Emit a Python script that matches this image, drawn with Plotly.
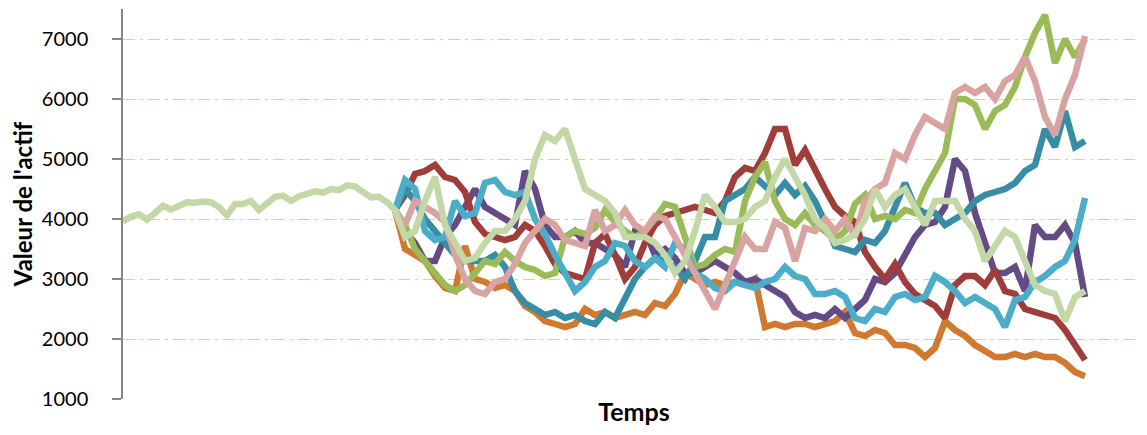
import plotly.graph_objects as go

# Historique commun (pas de temps)
temps_hist = list(range(0, 273, 8))
valeur_hist = [3960, 4040, 4080, 3990, 4100, 4220, 4160, 4230, 4280, 4270,
               4290, 4280, 4200, 4060, 4250, 4250, 4300, 4150, 4250, 4370,
               4390, 4300, 4380, 4420, 4460, 4440, 4500, 4480, 4560, 4540,
               4450, 4360, 4370, 4280, 4150]

# Trajectoires simulees a partir du dernier point de l'historique
temps_sim = list(range(272, 963, 10))

rouge = [4150, 4400, 4750, 4800, 4900, 4700, 4650, 4450, 3950, 3750,
         3700, 3650, 3700, 3900, 3800, 3550, 3250, 3100, 3050, 3000,
         3600, 3750, 3400, 3000, 3200, 3600, 3900, 4050, 4100, 4150,
         4200, 4150, 4100, 4300, 4700, 4850, 4800, 5100, 5500, 5500,
         4900, 5150, 4800, 4500, 4200, 4050, 3950, 3450, 3200, 3000,
         3250, 2950, 2750, 2650, 2550, 2350, 2900, 3050, 3050, 2900,
         3150, 2800, 2750, 2500, 2450, 2400, 2350, 2150, 1900, 1650]

bleu_fonce = [4150, 4500, 4300, 4000, 3800, 3600, 3400, 3300, 3300, 3300,
              3400, 3200, 2800, 2600, 2500, 2400, 2450, 2350, 2400, 2300,
              2250, 2450, 2350, 2700, 3000, 3200, 3350, 3300, 3200, 3000,
              3300, 3700, 3700, 4300, 4400, 4500, 4700, 4550, 4400, 4600,
              4400, 4550, 4300, 3950, 3550, 3500, 3450, 3650, 3600, 3800,
              4200, 4600, 4200, 4100, 4100, 3900, 4000, 4100, 4300, 4400,
              4450, 4500, 4600, 4800, 4900, 5500, 5200, 5800, 5200, 5300]

vert = [4150, 3900, 3500, 3300, 3100, 2900, 2800, 2900, 3100, 3300,
        3250, 3450, 3300, 3200, 3150, 3050, 3100, 3700, 3800, 3750,
        3850, 4150, 3950, 3800, 3700, 3800, 4000, 4250, 4200, 3700,
        3200, 3250, 3400, 3500, 3450, 4300, 4700, 4950, 4300, 4000,
        3900, 4100, 3900, 3800, 3650, 3800, 4250, 4400, 4000, 4050,
        4000, 4150, 4100, 4500, 4800, 5100, 6000, 6000, 5900, 5500,
        5800, 5900, 6200, 6700, 7100, 7400, 6600, 7000, 6700, 7000]

violet = [4150, 3800, 3600, 3300, 3300, 3700, 3900, 4200, 4500, 4200,
          4100, 4000, 3900, 4800, 4500, 3900, 3700, 3700, 3800, 3600,
          3600, 3500, 3400, 3200, 3800, 3800, 3400, 3500, 3350, 3100,
          3100, 3200, 3300, 3200, 3100, 2950, 3000, 2900, 2800, 2700,
          2450, 2350, 2400, 2350, 2500, 2350, 2500, 2650, 3000, 2950,
          3100, 3400, 3700, 3900, 3950, 4200, 5000, 4800, 4100, 3600,
          3100, 3100, 3200, 2800, 3900, 3700, 3700, 3900, 3600, 2700]

bleu_clair = [4150, 4650, 4500, 3800, 3650, 3700, 4300, 4050, 4100, 4600,
              4650, 4450, 4400, 4450, 4000, 3750, 3400, 3100, 2800, 2950,
              3200, 3300, 3600, 3550, 3300, 3200, 3350, 3200, 3600, 3500,
              3100, 3000, 2850, 2800, 2950, 2900, 2850, 2950, 3000, 3200,
              3050, 3000, 2750, 2750, 2800, 2700, 2350, 2300, 2500, 2450,
              2700, 2750, 2650, 2700, 3050, 2950, 2800, 2600, 2700, 2600,
              2500, 2200, 2650, 2700, 2950, 3050, 3200, 3300, 3650, 4350]

orange = [4150, 3500, 3400, 3300, 3050, 2850, 2800, 3550, 3000, 2950,
          2850, 2900, 2800, 2550, 2450, 2300, 2250, 2200, 2250, 2500,
          2400, 2450, 2350, 2400, 2450, 2400, 2600, 2550, 2750, 3100,
          3000, 2900, 2950, 2900, 2950, 2900, 3000, 2200, 2250, 2200,
          2250, 2250, 2200, 2250, 2300, 2450, 2100, 2050, 2150, 2100,
          1900, 1900, 1850, 1700, 1850, 2300, 2150, 2050, 1900, 1800,
          1700, 1700, 1750, 1700, 1750, 1700, 1700, 1600, 1450, 1380]

rose = [4150, 3900, 4300, 4200, 4100, 3950, 3400, 3000, 2800, 2750,
        2950, 3000, 3250, 3600, 3800, 4000, 3900, 3650, 3600, 3550,
        4150, 3800, 3900, 4150, 3900, 3800, 4050, 4000, 3700, 3400,
        3150, 2800, 2500, 2900, 3300, 3700, 3500, 3500, 3950, 3850,
        3300, 3850, 3800, 4000, 3800, 4000, 3700, 4300, 4500, 4600,
        5100, 5000, 5400, 5700, 5600, 5500, 6100, 6200, 6100, 6200,
        6000, 6300, 6400, 6700, 6300, 5700, 5400, 6000, 6400, 7050]

sauge = [4150, 3700, 3800, 4300, 4700, 3900, 3600, 3300, 3350, 3600,
         3800, 3800, 4000, 4300, 5000, 5400, 5300, 5500, 5000, 4500,
         4400, 4300, 4100, 3700, 3700, 3700, 3600, 3400, 3100, 3300,
         3800, 4400, 4200, 3950, 3950, 4000, 4200, 4300, 4700, 5000,
         4700, 4400, 4000, 3850, 3600, 3650, 3750, 4000, 4500, 4200,
         4400, 4500, 4200, 3900, 4300, 4300, 4300, 4000, 3800, 3300,
         3550, 3800, 3700, 3300, 2900, 2800, 2750, 2300, 2700, 2800]

series = [
    (orange, "#D07A31"),
    (violet, "#654B85"),
    (rouge, "#A03C3A"),
    (bleu_fonce, "#378DA4"),
    (vert, "#9BBB59"),
    (bleu_clair, "#4BADC8"),
    (rose, "#D9A3A1"),
]

fig = go.Figure()

for valeurs, couleur in series:
    fig.add_trace(go.Scatter(x=temps_sim, y=valeurs, mode="lines",
                             line=dict(color=couleur, width=6.5),
                             showlegend=False))

# la trajectoire sauge prolonge l'historique
fig.add_trace(go.Scatter(x=temps_hist + temps_sim[1:],
                         y=valeur_hist + sauge[1:], mode="lines",
                         line=dict(color="#C4D7A6", width=6.5),
                         showlegend=False))

# la page html ajoute 8 px de marge : on compense ici
fig.update_layout(
    width=1139, height=435,
    margin=dict(l=115, r=2, t=1, b=44),
    paper_bgcolor="white", plot_bgcolor="white",
    font=dict(family="Lato", color="black"),
)
fig.update_xaxes(
    range=[0, 1022], showgrid=False, zeroline=False, showline=False,
    showticklabels=False, ticks="",
    title=dict(text="<b>Temps</b>", font=dict(size=25), standoff=4),
)
fig.update_yaxes(
    range=[1000, 7500], tickvals=[1000, 2000, 3000, 4000, 5000, 6000, 7000],
    showgrid=True, gridcolor="#F8C69A", gridwidth=1.2,
    griddash="12px,5px,3px,5px",
    zeroline=False, showline=True, linecolor="#868686", linewidth=1.5,
    ticks="outside", ticklen=9, tickcolor="#868686", tickwidth=1.5,
    ticklabelstandoff=20, tickfont=dict(size=20),
    title=dict(text="<b>Valeur de l'actif</b>", font=dict(size=24), standoff=8),
)

fig.write_html("out.html")
